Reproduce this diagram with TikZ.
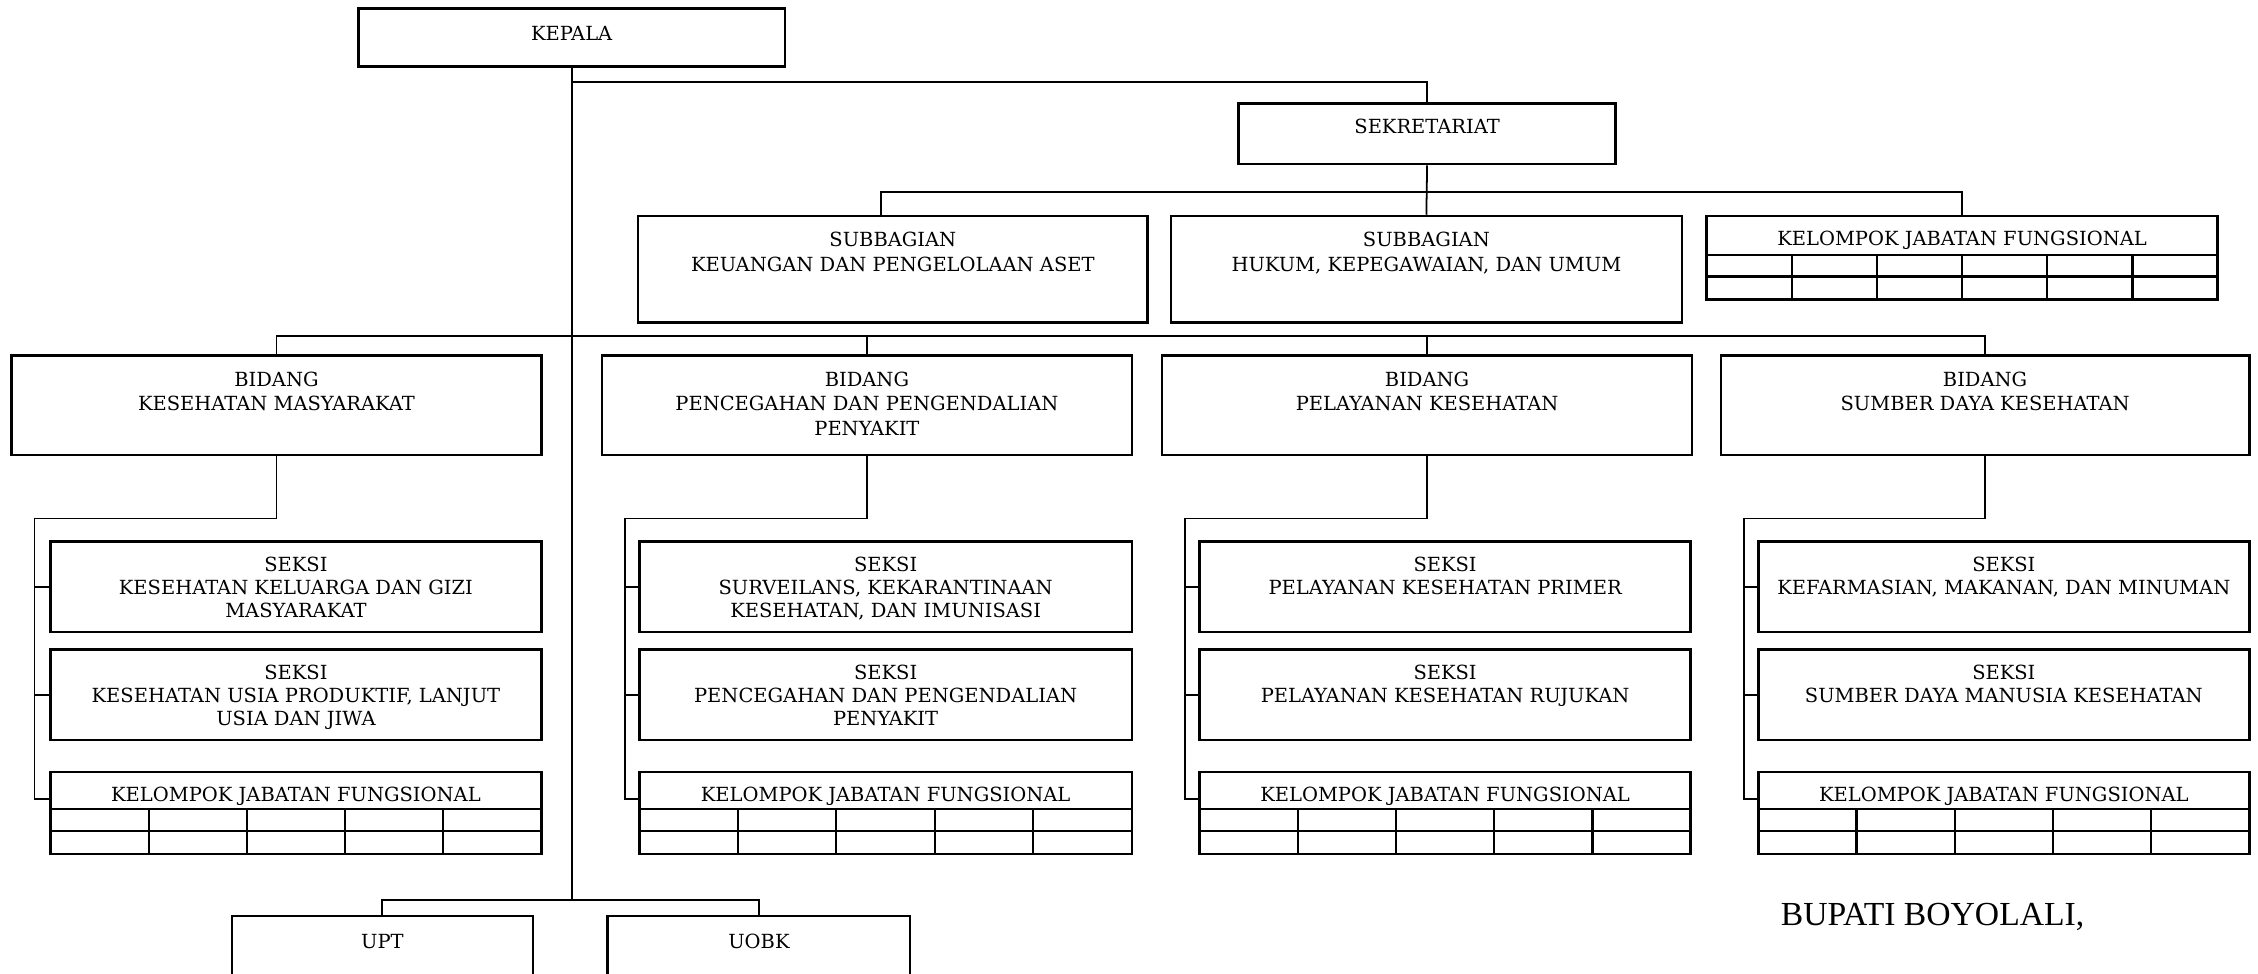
\documentclass[tikz,border=0pt]{standalone}
\usepackage{fontspec}
\setmainfont{DejaVu Serif}
\newfontfamily\bupfont{Liberation Serif}
\usetikzlibrary{fit,calc}
\tikzset{
  box/.style={draw, line width=1pt, inner sep=0pt, rectangle},
  lbl/.style={align=center, inner sep=0pt, anchor=north, yshift=-0.22cm, font=\fontsize{7.7}{10}\selectfont},
  blbl/.style={lbl, yshift=-0.02cm, font=\fontsize{7.7}{9.6}\selectfont},
  slbl/.style={lbl, font=\fontsize{7.7}{9.1}\selectfont},
  klbl/.style={lbl, yshift=-0.04cm},
  conn/.style={line width=0.7pt},
  gridline/.style={line width=0.85pt},
}
% name, x1, y1, x2, y2, label style, text
\newcommand\obox[7]{%
  \node[box, fit={(#2,#3) (#4,#5)}, label={[#6]north:{#7}}] (#1) {};}
% name, x1, y1, x2, y2, title bottom, middle row, list of divider indices, number of columns
\newcommand\kjfbox[9]{%
  \obox{#1}{#2}{#3}{#4}{#5}{slbl}{KELOMPOK JABATAN FUNGSIONAL}
  \draw[gridline] (#2,#6) -- (#4,#6) (#2,#7) -- (#4,#7);
  \foreach \k in {#8}{
    \pgfmathsetmacro\xx{#2+(#4-#2)*\k/#9}
    \draw[gridline] (\xx,#6) -- (\xx,#5);
  }}
\begin{document}
\begin{tikzpicture}[x=0.02cm, y=-0.02cm]
\useasboundingbox (0,0) rectangle (1568,676);
\clip (0,0) rectangle (1568,676);

% top level
\obox{kepala}{249}{6}{545}{46}{klbl}{KEPALA}
\obox{sek}{860}{72}{1122}{114}{slbl}{SEKRETARIAT}
\obox{sub1}{443}{150}{797}{224}{blbl}{SUBBAGIAN\\KEUANGAN DAN PENGELOLAAN ASET}
\obox{sub2}{813}{150}{1168}{224}{blbl}{SUBBAGIAN\\HUKUM, KEPEGAWAIAN, DAN UMUM}
\kjfbox{kjf0}{1185}{150}{1540}{208}{177}{192}{1,2,3,4,5}{6}

% bidang
\obox{b1}{8}{247}{376}{316}{blbl}{BIDANG\\KESEHATAN MASYARAKAT}
\obox{b2}{418}{247}{786}{316}{blbl}{BIDANG\\PENCEGAHAN DAN PENGENDALIAN\\PENYAKIT}
\obox{b3}{807}{247}{1175}{316}{blbl}{BIDANG\\PELAYANAN KESEHATAN}
\obox{b4}{1195}{247}{1562}{316}{blbl}{BIDANG\\SUMBER DAYA KESEHATAN}

% seksi
\obox{s1a}{35}{376}{376}{439}{slbl}{SEKSI\\KESEHATAN KELUARGA DAN GIZI\\MASYARAKAT}
\obox{s1b}{35}{451}{376}{514}{slbl}{SEKSI\\KESEHATAN USIA PRODUKTIF, LANJUT\\USIA DAN JIWA}
\kjfbox{kjf1}{35}{536}{376}{593}{562}{577}{1,2,3,4}{5}

\obox{s2a}{444}{376}{786}{439}{slbl}{SEKSI\\SURVEILANS, KEKARANTINAAN\\KESEHATAN, DAN IMUNISASI}
\obox{s2b}{444}{451}{786}{514}{slbl}{SEKSI\\PENCEGAHAN DAN PENGENDALIAN\\PENYAKIT}
\kjfbox{kjf2}{444}{536}{786}{593}{562}{577}{1,2,3,4}{5}

\obox{s3a}{833}{376}{1174}{439}{slbl}{SEKSI\\PELAYANAN KESEHATAN PRIMER}
\obox{s3b}{833}{451}{1174}{514}{slbl}{SEKSI\\PELAYANAN KESEHATAN RUJUKAN}
\kjfbox{kjf3}{833}{536}{1174}{593}{562}{577}{1,2,3,4}{5}

\obox{s4a}{1221}{376}{1562}{439}{slbl}{SEKSI\\KEFARMASIAN, MAKANAN, DAN MINUMAN}
\obox{s4b}{1221}{451}{1562}{514}{slbl}{SEKSI\\SUMBER DAYA MANUSIA KESEHATAN}
\kjfbox{kjf4}{1221}{536}{1562}{593}{562}{577}{1,2,3,4}{5}

% UPT / UOBK
\obox{upt}{161}{636}{370}{720}{klbl}{UPT}
\obox{uobk}{422}{636}{632}{720}{klbl}{UOBK}

\node[font=\bupfont\fontsize{13.3}{15}\selectfont, inner sep=0pt] (bupati) at (1342,637) {BUPATI BOYOLALI,};

% connectors
\coordinate (k1) at (397,57);
\coordinate (jb) at (397,625);
\draw[conn] (kepala.south) -- (jb);
\draw[conn] (k1) -| (sek.north);
\draw[conn] (sek.south) -- (sub2.north);
\draw[conn] ([xshift=-0.16cm]sub1.north) -- ++(0,-16) -| (kjf0.north);

\draw[conn] (b1.north) -- ++(0,-13) -| (b4.north);
\draw[conn] (b2.north) -- ++(0,-13);
\draw[conn] (b3.north) -- ++(0,-13);

\coordinate (v1) at (24,360);
\coordinate (v2) at (434,360);
\coordinate (v3) at (823,360);
\coordinate (v4) at (1211,360);
\foreach \n in {1,2,3,4}{
  \draw[conn] (b\n.south) |- (v\n) -- (v\n |- 0,555) -- (kjf\n.west |- 0,555);
  \draw[conn] (s\n a.west) -- (s\n a.west -| v\n);
  \draw[conn] (s\n b.west) -- (s\n b.west -| v\n);
}

\draw[conn] (upt.north) |- (jb) -| (uobk.north);
\end{tikzpicture}
\end{document}
